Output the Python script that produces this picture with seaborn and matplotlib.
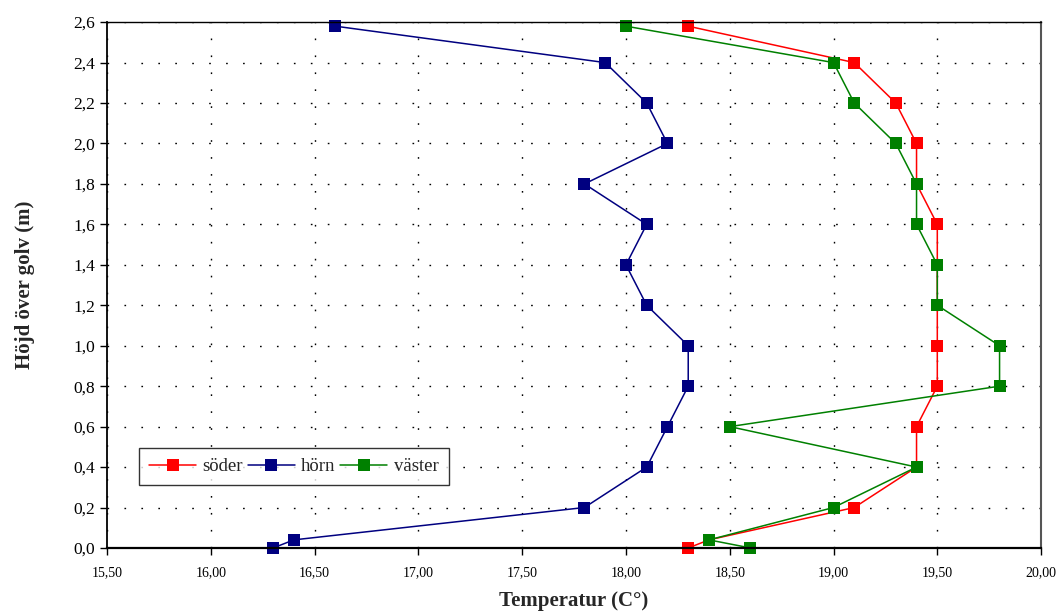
import matplotlib
matplotlib.use("Agg")
import matplotlib.pyplot as plt
import seaborn as sns
import pandas as pd
from matplotlib.ticker import FuncFormatter, MultipleLocator

# Data
heights = [0.0, 0.04, 0.2, 0.4, 0.6, 0.8, 1.0, 1.2, 1.4, 1.6, 1.8, 2.0, 2.2, 2.4, 2.58]
soder = [18.3, 18.4, 19.1, 19.4, 19.4, 19.5, 19.5, 19.5, 19.5, 19.5, 19.4, 19.4, 19.3, 19.1, 18.3]
horn = [16.3, 16.4, 17.8, 18.1, 18.2, 18.3, 18.3, 18.1, 18.0, 18.1, 17.8, 18.2, 18.1, 17.9, 16.6]
vaster = [18.6, 18.4, 19.0, 19.4, 18.5, 19.8, 19.8, 19.5, 19.5, 19.4, 19.4, 19.3, 19.1, 19.0, 18.0]
series_names = ["söder", "hörn", "väster"]
colors = ["#FF0000", "#000080", "#008000"]

rows = []
for name, vals in zip(series_names, [soder, horn, vaster]):
    for h, t in zip(heights, vals):
        rows.append({"Temperatur": t, "Höjd": h, "serie": name})
df = pd.DataFrame(rows)

sns.set_style("white")
plt.rcParams["font.family"] = ["Liberation Serif", "DejaVu Serif"]

fig = plt.figure(figsize=(10.62, 6.15), dpi=100)
ax = fig.add_axes([0.1008, 0.109, 0.8795, 0.855])

sns.lineplot(data=df, x="Temperatur", y="Höjd", hue="serie", hue_order=series_names,
             palette=dict(zip(series_names, colors)), sort=False, estimator=None,
             marker="s", markersize=9, markeredgewidth=0, linewidth=1.1, ax=ax)
for ln in ax.lines:
    ln.set_clip_on(False)

ax.set_xlim(15.5, 20.0)
ax.set_ylim(0, 2.6)
ax.xaxis.set_major_locator(MultipleLocator(0.5))
ax.yaxis.set_major_locator(MultipleLocator(0.2))
ax.xaxis.set_major_formatter(FuncFormatter(lambda v, p: f"{v:.2f}".replace(".", ",")))
ax.yaxis.set_major_formatter(FuncFormatter(lambda v, p: f"{v:.1f}".replace(".", ",")))

ax.grid(True, color="black", linestyle=(0, (1.2, 11)), linewidth=1.0)
ax.set_axisbelow(True)
for s in ax.spines.values():
    s.set_visible(True)
    s.set_color("black")
    s.set_linewidth(1.0)
ax.spines["left"].set_linewidth(1.3)
ax.spines["bottom"].set_linewidth(1.6)
ax.spines["right"].set_color("#555555")
ax.spines["right"].set_linewidth(1.5)

ax.tick_params(axis="y", direction="out", length=5, width=1, labelsize=12.5, colors="black", left=True)
ax.tick_params(axis="x", direction="out", length=5, width=1, labelsize=10, colors="black", bottom=True, pad=8)

ax.set_xlabel("Temperatur (C°)", fontsize=15, fontweight="bold", va="center")
ax.xaxis.set_label_coords(0.5, -0.101)
ax.set_ylabel("Höjd över golv (m)", fontsize=15, fontweight="bold", va="center")
ax.yaxis.set_label_coords(-0.088, 0.5)

leg = ax.legend(loc="lower left", bbox_to_anchor=(0.034, 0.119), ncol=3, frameon=True,
                fontsize=13.5, handlelength=2.5, handletextpad=0.35, columnspacing=0.25,
                borderpad=0.55, fancybox=False, borderaxespad=0)
leg.get_frame().set_edgecolor("black")
leg.get_frame().set_linewidth(1.0)

fig.savefig("out.png", dpi=100)
